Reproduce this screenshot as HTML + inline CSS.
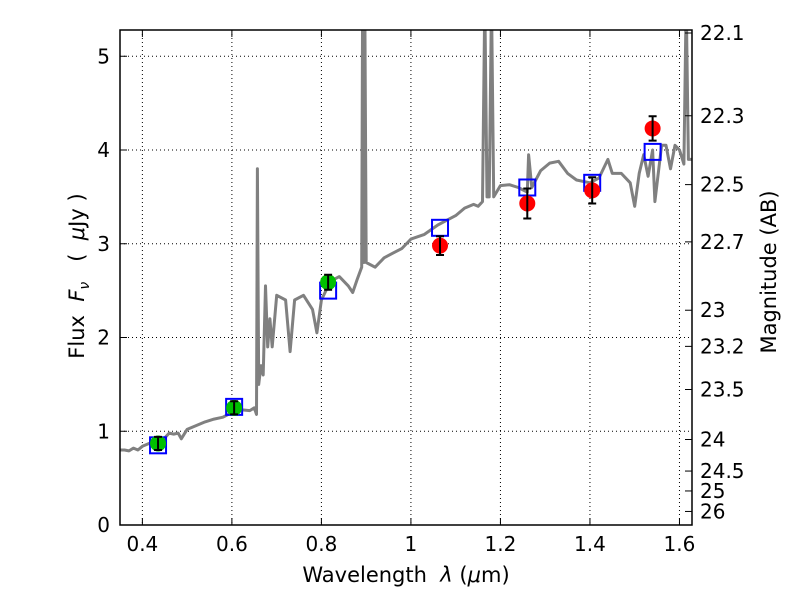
<!DOCTYPE html>
<html><head><meta charset="utf-8">
<style>
html,body{margin:0;padding:0;background:#fff;}
svg{display:block;font-family:"DejaVu Sans","Liberation Sans",sans-serif;}
text{white-space:pre;}
</style></head>
<body>
<svg id="chart" width="800" height="600" viewBox="0 0 800 600" xml:space="preserve">
<rect width="800" height="600" fill="#fff"/>
<g id="grid"></g>
<g id="spec"></g>
<g id="marks"></g>
<g id="axes"></g>
<text x="406" y="582" font-size="21" text-anchor="middle">Wavelength  <tspan font-style="italic">λ</tspan> (<tspan font-style="italic">μ</tspan>m)</text>
<text transform="translate(84,276) rotate(-90)" font-size="21" text-anchor="middle">Flux  <tspan font-style="italic">F</tspan><tspan font-style="italic" font-size="14" dy="5">ν</tspan><tspan dy="-5">   (  </tspan><tspan font-style="italic">μ</tspan>Jy )</text>
<text transform="translate(776,272) rotate(-90)" font-size="21" text-anchor="middle">Magnitude (AB)</text>
</svg>
<script>
const xTicks=[0.4,0.6,0.8,1.0,1.2,1.4,1.6];
const xTickLabels=["0.4","0.6","0.8","1","1.2","1.4","1.6"];
const yTicks=[0,1,2,3,4,5];
const magTicks=[22.1,22.3,22.5,22.7,23,23.2,23.5,24,24.5,25,26];
const specWave=[0.35,0.36,0.37,0.38,0.39,0.40,0.41,0.42,0.43,0.44,0.45,0.46,0.47,0.48,0.487,0.50,0.52,0.54,0.56,0.58,0.60,0.62,0.64,0.65,0.655,0.657,0.66,0.665,0.67,0.675,0.68,0.685,0.69,0.70,0.72,0.73,0.74,0.76,0.78,0.79,0.80,0.82,0.84,0.86,0.87,0.88,0.89,0.892,0.895,0.897,0.90,0.92,0.94,0.96,0.98,1.00,1.03,1.06,1.08,1.10,1.12,1.14,1.15,1.16,1.165,1.17,1.175,1.18,1.185,1.20,1.22,1.24,1.26,1.263,1.27,1.29,1.31,1.33,1.35,1.37,1.40,1.42,1.44,1.45,1.47,1.49,1.50,1.51,1.52,1.53,1.54,1.545,1.56,1.57,1.58,1.59,1.60,1.61,1.615,1.62,1.628];
const specFlux=[0.80,0.80,0.79,0.82,0.80,0.84,0.86,0.88,0.93,0.90,0.93,0.98,0.97,0.98,0.92,1.02,1.06,1.10,1.13,1.15,1.20,1.23,1.22,1.25,1.18,3.8,1.5,1.7,1.6,2.55,1.9,2.2,1.9,2.45,2.4,1.85,2.4,2.45,2.3,2.05,2.4,2.6,2.65,2.55,2.48,2.62,2.75,5.6,2.8,5.6,2.8,2.75,2.85,2.9,2.95,3.05,3.1,3.2,3.25,3.3,3.38,3.42,3.4,3.45,5.6,3.5,3.5,5.6,3.5,3.62,3.63,3.6,3.55,3.95,3.6,3.78,3.86,3.88,3.75,3.68,3.65,3.7,3.9,3.75,3.75,3.65,3.4,3.75,3.95,3.72,4.0,3.45,4.05,4.05,3.8,4.05,4.0,3.85,5.6,3.9,3.9];
const obsWave=[0.435,0.605,0.815,1.065,1.26,1.405,1.54];
const obsFlux=[0.87,1.25,2.59,2.98,3.43,3.57,4.23];
const obsErr=[0.07,0.07,0.08,0.10,0.16,0.14,0.13];
const obsColor=["#00c000","#00c000","#00c000","#ff0000","#ff0000","#ff0000","#ff0000"];
const modelFlux=[0.85,1.26,2.5,3.17,3.6,3.65,3.98];

const L=120,R=692,T=30,B=525,X0=0.35,X1=1.628,Y0=0,Y1=5.28;
const sx=v=>L+(v-X0)/(X1-X0)*(R-L);
const sy=v=>B-(v-Y0)/(Y1-Y0)*(B-T);
const NS="http://www.w3.org/2000/svg";
function mk(tag,attrs,parent){const e=document.createElementNS(NS,tag);for(const k in attrs)e.setAttribute(k,attrs[k]);parent.appendChild(e);return e;}
const grid=document.getElementById('grid'),axes=document.getElementById('axes'),spec=document.getElementById('spec'),marks=document.getElementById('marks');

xTicks.forEach((t,i)=>{
  const g=mk('line',{x1:sx(t),x2:sx(t),y1:T,y2:B,stroke:'#000','stroke-width':1,'stroke-dasharray':'1,3'},grid);
  
  
  mk('line',{x1:sx(t),x2:sx(t),y1:B,y2:B-7,stroke:'#000'},axes);
  mk('line',{x1:sx(t),x2:sx(t),y1:T,y2:T+7,stroke:'#000'},axes);
  const tx=mk('text',{x:sx(t),y:B+26,'font-size':20,'text-anchor':'middle'},axes);
  tx.textContent=xTickLabels[i];
  
  
});
yTicks.forEach(t=>{
  const g=mk('line',{x1:L,x2:R,y1:sy(t),y2:sy(t),stroke:'#000','stroke-width':1,'stroke-dasharray':'1,3'},grid);
  
  
  mk('line',{x1:L,x2:L+7,y1:sy(t),y2:sy(t),stroke:'#000'},axes);
  const tx=mk('text',{x:L-10,y:sy(t)+7,'font-size':20,'text-anchor':'end'},axes);
  tx.textContent=String(t);
  
  
});
magTicks.forEach(m=>{
  const f=Math.pow(10,(23.9-m)/2.5);
  const y=sy(f);
  mk('line',{x1:R,x2:R-7,y1:y,y2:y,stroke:'#000'},axes);
  const tx=mk('text',{x:R+8,y:y+7,'font-size':20},axes);
  tx.textContent=String(m);
  
  
});

let d='';
specWave.forEach((w,i)=>{d+=(i?'L':'M')+sx(w).toFixed(1)+','+sy(Math.min(specFlux[i],5.6)).toFixed(1);});
const cp=mk('clipPath',{id:'clip'},document.getElementById('chart'));
mk('rect',{x:L,y:T,width:R-L,height:B-T},cp);
const sp=mk('path',{d:d,fill:'none',stroke:'#808080','stroke-width':3,'stroke-linejoin':'round','clip-path':'url(#clip)'},spec);



obsWave.forEach((w,i)=>{
  const x=sx(w);
  const sq=mk('rect',{x:x-8,y:sy(modelFlux[i])-8,width:16,height:16,fill:'none',stroke:'#0000ff','stroke-width':2},marks);
  
  
  const c=mk('circle',{cx:x,cy:sy(obsFlux[i]),r:8,fill:obsColor[i]},marks);
  
  
  const y1=sy(obsFlux[i]+obsErr[i]),y2=sy(obsFlux[i]-obsErr[i]);
  const eb=mk('path',{d:`M${x},${y1}L${x},${y2}M${x-4},${y1}L${x+4},${y1}M${x-4},${y2}L${x+4},${y2}`,stroke:'#000','stroke-width':2,fill:'none'},marks);
  
  
});
const fr=mk('rect',{x:L,y:T,width:R-L,height:B-T,fill:'none',stroke:'#000','stroke-width':1.5},axes);


</script>
</body></html>
